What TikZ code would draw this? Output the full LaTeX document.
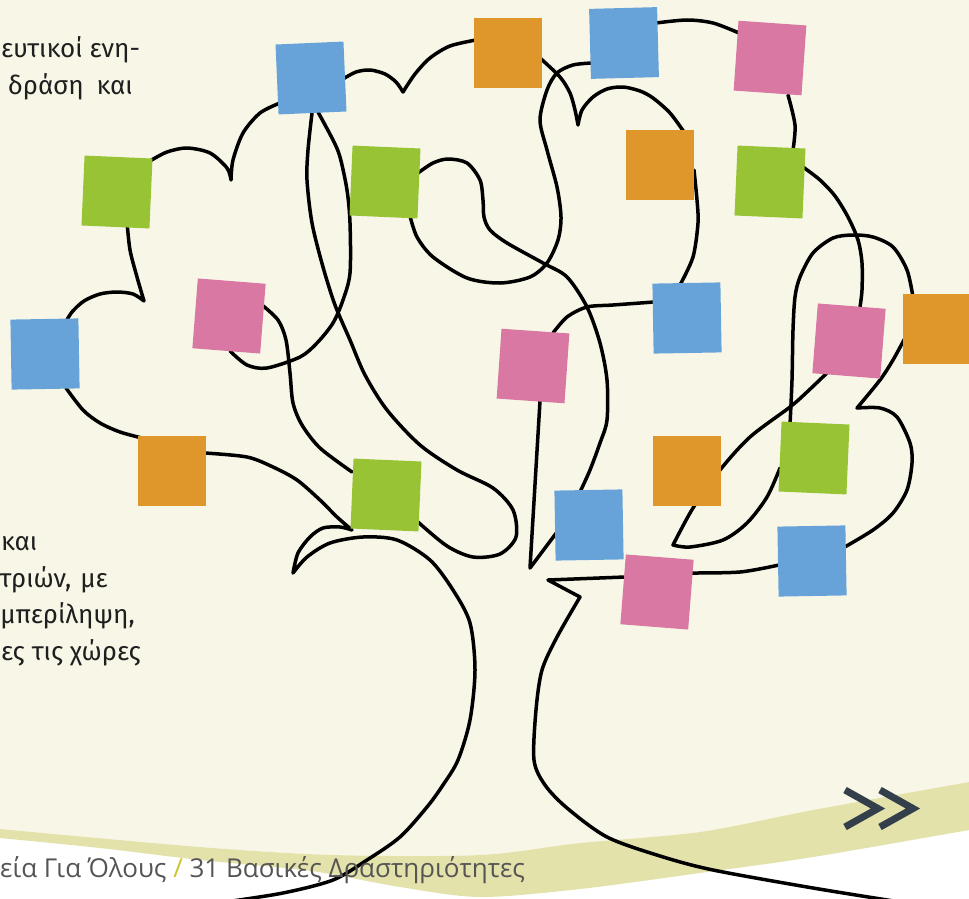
\documentclass[tikz,border=0pt]{standalone}
\usepackage{fontspec}
\setmainfont{Fira Sans}
\newfontfamily\footfont{Open Sans}
\definecolor{cream}{HTML}{F8F7E7}
\definecolor{band}{HTML}{E4E2AB}
\definecolor{noteblue}{HTML}{67A3D8}
\definecolor{noteorange}{HTML}{DF972B}
\definecolor{notepink}{HTML}{D878A3}
\definecolor{notegreen}{HTML}{97C335}
\definecolor{chevgray}{HTML}{333F4B}
\definecolor{slash}{HTML}{CBC52A}
\definecolor{foot}{HTML}{555555}
\begin{document}
\begin{tikzpicture}[x=1pt, y=-1pt,
% common options for the tree line:
branch/.style = {line width=3.5pt, line cap=round, line join=round},
% common options for the sticky notes:
note/.style = {rectangle, minimum width=68pt, minimum height=70pt, inner sep=0},
% common options for the texts:
body/.style = {font=\fontsize{26}{31}\selectfont, text=black!88, inner sep=0, anchor=base east},
footer/.style = {font=\footfont\fontsize{26}{30}\selectfont, text=foot, inner sep=0, anchor=base west},
chevron/.style = {draw=chevgray, line width=7pt, line join=miter}]
\useasboundingbox (0,0) rectangle (969,899);
\clip (0,0) rectangle (969,899);
% background and band
\fill[white] (0,0) rectangle (969,899);
\fill[cream] (0,0) -- (969,0) -- plot[smooth] coordinates {(969,782) (813,810) (700,832) (580,843) (480,855) (333,855) (200,847) (0,829)} -- cycle;
\fill[band] plot[smooth] coordinates {(0,829) (200,847) (333,855) (480,855) (580,843) (700,832) (813,810) (969,782)}
  -- plot[smooth] coordinates {(969,830) (813,857) (700,873) (580,889) (480,897) (400,887) (311,871) (200,860) (100,848) (0,838)} -- cycle;
% the tree
\draw[branch] plot[smooth] coordinates {(64,325) (72,312) (84,301) (100,294) (117,292) (133,294) (144,301)}
  -- plot[smooth] coordinates {(144,301) (137,277) (130,250) (127,222)};
\draw[branch] plot[smooth] coordinates {(150,161) (167,152) (187,148) (210,153) (227,168) (231,180)}
  -- plot[smooth] coordinates {(231,180) (233,160) (243,133) (260,113) (280,103)};
\draw[branch] plot[smooth] coordinates {(343,79) (356,72) (370,70) (385,74) (396,82) (403,92)}
  -- plot[smooth] coordinates {(403,92) (415,74) (430,58) (450,46) (476,40)};
\draw[branch] plot[smooth] coordinates {(540,58) (560,77) (570,93) (575,110) (578,125)}
  -- plot[smooth] coordinates {(578,125) (582,110) (593,97) (607,89) (623,87) (640,91) (653,98) (670,113) (684,132)};
\draw[branch] plot[smooth] coordinates {(592,63) (573,65) (557,73) (547,90) (540,120) (547,150) (557,187) (561,217) (558,240) (547,263) (530,277) (500,283) (467,278) (433,257) (417,237) (410,216)};
\draw[branch] plot[smooth] coordinates {(418,173) (433,163) (448,159) (467,163) (480,180) (483,200) (484,217) (490,230) (507,243) (543,263) (567,277) (587,307) (600,343) (607,380) (607,420) (600,443) (590,470) (580,492)};
\draw[branch] plot[smooth] coordinates {(656,23) (687,20) (713,23) (739,33)};
\draw[branch] plot[smooth] coordinates {(788,95) (795,125) (793,150)};
\draw[branch] plot[smooth] coordinates {(803,167) (820,180) (835,196) (848,217) (858,240) (862,263) (862,290) (860,307)};
\draw[branch] plot[smooth] coordinates {(694,170) (697,200) (698,223) (693,257) (680,285)};
\draw[branch] plot[smooth] coordinates {(654,302) (613,305) (587,307) (567,317) (553,333)};
\draw[branch] plot[smooth] coordinates {(913,297) (907,270) (893,247) (873,237) (853,235) (833,238) (813,253) (800,277) (795,297) (793,330) (792,380) (790,425)};
\draw[branch] plot[smooth] coordinates {(829,371) (807,392) (790,407) (750,437) (720,470) (693,508) (673,545)}
  -- plot[smooth] coordinates {(673,545) (690,547) (723,540) (747,523) (767,497) (780,468)};
\draw[branch] plot[smooth] coordinates {(905,338) (893,360) (880,380) (857,408)}
  -- plot[smooth] coordinates {(857,408) (880,408) (897,417) (910,443) (912,463) (907,490) (893,513) (873,530) (843,548)};
\draw[branch] plot[smooth] coordinates {(779,565) (740,572) (690,573)};
\draw[branch] (625,577) -- (548,580)
  -- plot[smooth] coordinates {(580,597) (557,637) (542,670) (536,710) (534,760) (545,785) (567,808) (607,837) (660,856) (713,870) (813,888) (900,902)};
\draw[branch] (540,401) -- (530,568) -- (557,532);
\draw[branch] plot[smooth] coordinates {(312,113) (308,150) (307,180) (312,223) (323,267) (335,305) (350,340) (365,375) (387,410) (420,445) (457,470) (493,488) (513,510) (516,537) (500,554) (473,557) (447,546) (418,522)};
\draw[branch] plot[smooth] coordinates {(318,112) (333,140) (340,157) (347,190) (350,223) (350,273) (343,300) (333,323) (317,343) (300,357) (267,368) (247,365) (230,351)};
\draw[branch] plot[smooth] coordinates {(262,305) (278,320) (286,340) (290,373) (293,403) (302,425) (320,448) (352,472)};
\draw[branch] plot[smooth] coordinates {(66,388) (83,410) (100,423) (120,432) (142,438)};
\draw[branch] plot[smooth] coordinates {(205,453) (247,457) (273,467) (297,480) (320,500) (337,517) (352,530)}
  -- plot[smooth] coordinates {(352,530) (340,527) (323,528) (310,537) (298,553) (293,573)}
  -- plot[smooth] coordinates {(293,573) (307,557) (330,543) (363,537) (397,540) (430,560) (453,590) (470,623) (475,670) (470,720) (458,760) (443,785) (427,807) (400,837) (367,860) (333,880) (283,893) (225,902)};
% sticky notes
\node[note, fill=noteblue, rotate=2.5] (B1) at (311,78) {};
\node[note, fill=noteorange] (O2) at (508,53) {};
\node[note, fill=noteblue, rotate=1.5] (B3) at (624,43) {};
\node[note, fill=notepink, rotate=-4] (P4) at (770,58) {};
\node[note, fill=notegreen, rotate=-2.5] (G5) at (117,192) {};
\node[note, fill=notegreen, rotate=-2.5] (G6) at (385,182) {};
\node[note, fill=noteorange] (O7) at (660,165) {};
\node[note, fill=notegreen, rotate=-2.5] (G8) at (770,182) {};
\node[note, fill=notepink, rotate=-4.5] (P9) at (229,316) {};
\node[note, fill=noteblue, rotate=1] (B10) at (45,354) {};
\node[note, fill=noteblue, rotate=1] (B11) at (687,318) {};
\node[note, fill=notepink, rotate=-4] (P12) at (533,366) {};
\node[note, fill=notepink, rotate=-4.5] (P13) at (849,341) {};
\node[note, fill=noteorange] (O14) at (937,329) {};
\node[note, fill=noteorange] (O15) at (172,471) {};
\node[note, fill=notegreen, rotate=-2.5] (G16) at (386,495) {};
\node[note, fill=noteorange] (O17) at (687,471) {};
\node[note, fill=notegreen, rotate=-2.5] (G18) at (814,458) {};
\node[note, fill=noteblue, rotate=1] (B19) at (589,525) {};
\node[note, fill=notepink, rotate=-4.5] (P20) at (657,592) {};
\node[note, fill=noteblue, rotate=1] (B21) at (812,561) {};
% texts
\node[body, anchor=base west] (T1) at (1,58) {ευτικοί ενη-};
\node[body] (T2) at (133,94) {δράση\hspace{6pt} και};
\node[body, anchor=base west] (L1) at (1,550) {και};
\node[body] (L2) at (108,587) {τριών,\hspace{2pt} με};
\node[body] (L3) at (135,623) {μπερίληψη,};
\node[body, anchor=base west] (L4) at (1,660) {ες τις χώρες};
\node[footer] (F0) at (0,877) {εία Για Όλους \textcolor{slash}{/} 31 Βασικές Δραστηριότητες};
% arrows
\draw[chevron] (845,790) -- (878,808.5) -- (845,827);
\draw[chevron] (880,790) -- (913,808.5) -- (880,827);
\end{tikzpicture}
\end{document}
